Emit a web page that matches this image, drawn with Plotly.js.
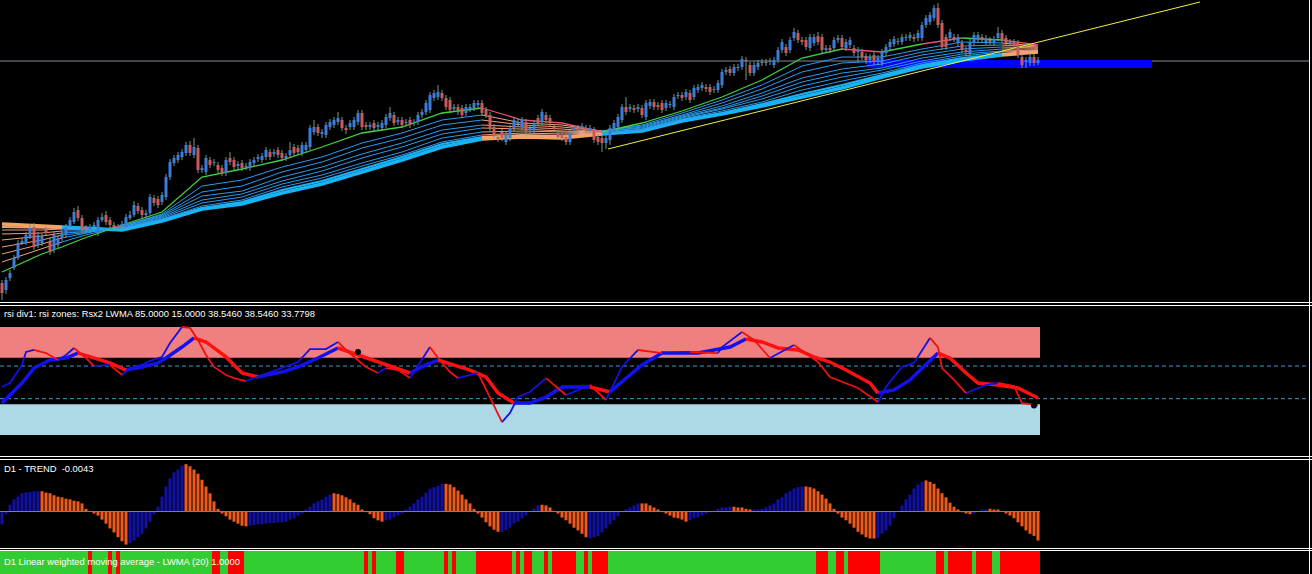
<!DOCTYPE html>
<html><head><meta charset="utf-8">
<script src="https://cdn.plot.ly/plotly-3.0.1.min.js"></script>
<style>html,body{margin:0;padding:0;background:#000;overflow:hidden}#chart{width:1312px;height:574px}</style>
</head><body><div id="chart"></div>
<script>
// ---------- price candles (bar index 0..259) ----------
const opens = [1017,1010,1022,1032,1042,1057,1057,1063,1073,1055,1057,1070,1058,1050,1055,1062,1065,1073,1078,1090,
1082,1072,1070,1073,1067,1080,1085,1080,1075,1074,1074,1073,1082,1085,1094,1090,1085,1087,1102,1101,
1098,1103,1123,1137,1140,1143,1147,1155,1145,1152,1130,1128,1140,1137,1135,1132,1127,1142,1140,1134,
1137,1133,1132,1137,1141,1140,1143,1148,1146,1150,1147,1142,1145,1153,1152,1147,1150,1153,1168,1173,
1166,1165,1173,1175,1178,1180,1172,1173,1173,1178,1187,1175,1173,1177,1173,1172,1175,1182,1185,1178,
1180,1177,1180,1177,1178,1185,1188,1190,1202,1203,1207,1202,1200,1191,1193,1192,1187,1191,1192,1195,
1197,1190,1185,1173,1163,1168,1158,1162,1172,1176,1173,1178,1170,1170,1182,1178,1185,1182,1173,1167,
1165,1163,1158,1170,1172,1172,1172,1170,1170,1163,1162,1157,1160,1168,1173,1180,1193,1191,1192,1191,
1192,1183,1194,1198,1195,1197,1192,1195,1193,1204,1205,1203,1207,1203,1210,1212,1213,1213,1210,1210,
1215,1228,1231,1227,1232,1233,1240,1235,1227,1233,1237,1238,1238,1235,1240,1250,1253,1250,1262,1267,
1260,1260,1252,1257,1264,1263,1250,1252,1252,1260,1262,1252,1255,1252,1248,1248,1244,1240,1245,1238,
1237,1247,1253,1256,1258,1258,1262,1262,1263,1262,1262,1275,1278,1282,1292,1277,1263,1262,1263,1257,
1257,1250,1247,1257,1260,1263,1258,1260,1257,1262,1267,1262,1257,1258,1257,1243,1238,1237,1243,1237];
const highs = [1020,1023,1030,1045,1060,1062,1068,1076,1077,1068,1066,1073,1062,1068,1065,1070,1076,1083,1092,1094,
1085,1075,1076,1078,1083,1087,1089,1083,1078,1076,1079,1086,1089,1099,1097,1093,1090,1106,1105,1104,
1108,1126,1141,1145,1148,1151,1158,1159,1162,1155,1135,1145,1143,1141,1138,1135,1143,1148,1143,1139,
1140,1137,1141,1143,1146,1147,1153,1151,1151,1153,1150,1147,1158,1156,1155,1158,1158,1175,1180,1176,
1171,1178,1181,1183,1188,1183,1175,1180,1183,1190,1190,1178,1178,1180,1178,1180,1186,1193,1188,1183,
1183,1181,1183,1181,1188,1191,1200,1208,1210,1215,1210,1205,1203,1196,1196,1195,1196,1196,1200,1200,
1200,1193,1188,1176,1166,1171,1168,1175,1183,1181,1183,1181,1175,1180,1185,1191,1188,1185,1176,1170,
1168,1166,1170,1175,1175,1177,1175,1175,1173,1166,1165,1165,1175,1180,1186,1196,1203,1196,1195,1196,
1195,1200,1201,1201,1198,1200,1200,1199,1206,1208,1208,1211,1210,1215,1216,1218,1216,1216,1214,1220,
1231,1233,1234,1236,1236,1244,1243,1238,1238,1240,1241,1241,1242,1243,1253,1261,1256,1263,1272,1270,
1263,1263,1266,1266,1268,1266,1255,1255,1263,1265,1265,1261,1263,1255,1253,1251,1247,1246,1248,1245,
1251,1256,1261,1264,1262,1266,1266,1268,1266,1270,1278,1285,1288,1295,1297,1280,1266,1271,1266,1266,
1260,1253,1261,1268,1268,1266,1265,1263,1264,1273,1270,1265,1261,1261,1260,1246,1243,1246,1246,1243];
const lows = [1000,1006,1019,1030,1040,1055,1055,1061,1050,1052,1054,1064,1045,1047,1052,1059,1062,1070,1076,1079,
1067,1068,1067,1071,1064,1078,1075,1072,1070,1069,1071,1071,1080,1083,1086,1082,1082,1085,1094,1092,
1095,1100,1120,1134,1137,1140,1144,1144,1142,1127,1127,1125,1132,1134,1127,1124,1124,1135,1130,1131,
1129,1130,1129,1134,1138,1137,1140,1140,1143,1142,1139,1139,1142,1144,1145,1144,1147,1150,1165,1164,
1162,1162,1170,1172,1175,1169,1166,1170,1170,1175,1170,1170,1170,1169,1170,1169,1172,1179,1174,1175,
1172,1174,1172,1174,1175,1182,1185,1187,1199,1200,1199,1190,1187,1188,1185,1182,1184,1188,1189,1192,
1184,1182,1169,1162,1158,1159,1155,1159,1169,1173,1170,1165,1167,1167,1174,1175,1177,1174,1168,1160,
1159,1155,1155,1167,1167,1169,1167,1167,1157,1155,1148,1151,1155,1165,1170,1177,1185,1188,1187,1188,
1182,1180,1191,1190,1190,1187,1189,1192,1190,1201,1199,1200,1197,1200,1207,1209,1208,1205,1207,1207,
1212,1225,1224,1224,1229,1230,1220,1224,1224,1230,1234,1234,1235,1232,1237,1247,1244,1247,1259,1257,
1255,1250,1249,1254,1255,1247,1247,1247,1249,1257,1250,1249,1252,1244,1238,1240,1236,1237,1235,1235,
1234,1244,1250,1253,1255,1255,1259,1259,1258,1259,1259,1272,1275,1279,1272,1250,1250,1259,1258,1254,
1247,1244,1244,1254,1257,1258,1255,1255,1254,1259,1257,1254,1254,1251,1242,1232,1232,1234,1234,1235];
const closes = [1007,1020,1027,1042,1057,1059,1065,1072,1053,1065,1063,1067,1048,1065,1062,1067,1073,1080,1088,1082,
1070,1071,1073,1075,1080,1083,1078,1075,1073,1072,1076,1083,1085,1095,1089,1085,1087,1103,1097,1095,
1105,1123,1138,1142,1145,1148,1155,1147,1153,1130,1132,1142,1135,1138,1130,1127,1140,1138,1133,1136,
1132,1134,1138,1140,1143,1144,1150,1143,1148,1145,1142,1144,1150,1147,1148,1155,1155,1172,1173,1167,
1168,1175,1178,1180,1182,1172,1170,1177,1180,1187,1173,1173,1175,1172,1175,1177,1183,1187,1177,1180,
1175,1178,1175,1178,1185,1188,1197,1205,1207,1208,1202,1193,1190,1193,1190,1185,1193,1193,1197,1197,
1187,1185,1172,1165,1161,1162,1165,1172,1180,1178,1180,1168,1172,1177,1177,1188,1180,1177,1171,1163,
1162,1158,1167,1172,1170,1174,1170,1172,1160,1158,1157,1162,1172,1177,1183,1193,1188,1193,1190,1193,
1185,1197,1198,1193,1193,1190,1197,1196,1203,1205,1202,1208,1200,1212,1213,1215,1211,1208,1211,1217,
1228,1230,1227,1233,1233,1241,1239,1227,1235,1237,1238,1237,1239,1240,1250,1258,1247,1260,1268,1260,
1258,1253,1263,1263,1258,1250,1252,1250,1260,1262,1253,1258,1260,1247,1250,1243,1240,1243,1238,1242,
1248,1253,1258,1261,1259,1263,1263,1265,1261,1267,1275,1282,1285,1292,1275,1253,1253,1268,1261,1263,
1250,1248,1258,1265,1265,1261,1262,1258,1261,1267,1260,1257,1258,1254,1245,1235,1240,1243,1237,1240];

// ---------- drawn objects on the price chart ----------
const bidPrice = 1239;
const zoneBars = [216.2, 287.5];
const zonePrices = [1232, 1240];
const trendLineBars = [151.5, 299.5];
const trendLinePrices = [1151, 1298];

// ---------- moving-average ribbon (sampled bars) ----------
const ribbonBars = [0,10,15,20,30,40,50,60,70,80,90,100,110,120,130,140,150,160,170,180,190,200,210,220,230,240,250,259];
const maFast = [1028,1046,1053,1061,1075,1088,1123,1131,1140,1153,1167,1173,1187,1192,1180,1177,1168,1177,1189,1203,1220,1242,1251,1248,1256,1262,1260,1255];
const ma2 = [1038,1051,1058,1064,1074,1086,1114,1120,1133,1143,1157,1167,1180,1185,1177,1175,1169,1175,1187,1200,1215,1234,1243,1243,1251,1258,1257,1254];
const ma3 = [1046,1056,1062,1066,1074,1085,1108,1114,1128,1138,1152,1162,1175,1180,1175,1173,1169,1174,1185,1197,1211,1228,1237,1239,1248,1254,1255,1253];
const ma4 = [1053,1060,1065,1067,1073,1084,1104,1109,1123,1133,1146,1157,1170,1175,1173,1171,1168,1173,1184,1194,1207,1222,1231,1236,1245,1251,1253,1252];
const ma5 = [1060,1064,1067,1068,1073,1083,1100,1106,1119,1129,1142,1153,1166,1172,1171,1169,1168,1172,1183,1192,1204,1218,1227,1232,1242,1248,1251,1251];
const ma6 = [1066,1067,1069,1069,1072,1082,1097,1103,1116,1125,1137,1148,1162,1168,1169,1168,1167,1171,1182,1191,1201,1214,1223,1230,1239,1246,1249,1250];
const ma7 = [1070,1070,1071,1070,1072,1081,1094,1100,1113,1122,1134,1145,1158,1165,1167,1166,1167,1170,1181,1189,1198,1210,1219,1227,1237,1244,1248,1249];
const ma8 = [1073,1072,1072,1071,1071,1080,1092,1098,1110,1119,1131,1143,1156,1163,1165,1164,1166,1170,1180,1187,1196,1206,1215,1225,1235,1242,1246,1249];
const maSlow = [1076,1074,1073,1072,1070,1079,1091,1096,1107,1116,1128,1140,1153,1161,1163,1162,1166,1169,1179,1186,1194,1203,1212,1223,1233,1240,1245,1248];
const ribbonDownRanges = [[0,15],[120,150],[250,259]];
const fastDownRanges = [[120,150],[210,220],[230,240],[250,259]];

// ---------- RSI divergence panel ----------
const rsiFastBars = [0,2,5,6,8,11,14,16,18,21,23,27,30,32,35,37,40,42,45,47,49,51,53,56,58,61,63,67,71,74,77,81,84,86,91,94,96,99,102,107,109,112,114,117,119,122,125,127,129,132,136,141,147,151,155,159,165,172,179,180,185,188,192,198,204,207,214,219,221,225,228,232,234,235,238,241,246,249,253,255,259];
const rsiFastVals = [46.1,48.7,60.4,68.8,70.1,68.1,63.6,66.9,71.4,64.9,59.7,60.4,53.9,58.4,60.4,63.0,65.6,74.6,85.0,84.4,76.6,66.9,59.1,53.9,51.9,50.0,51.9,55.8,59.1,62.3,70.7,70.7,75.3,70.1,59.1,55.2,58.4,57.1,51.9,72.0,64.9,55.8,51.9,53.9,55.2,39.6,23.4,29.3,39.6,42.9,51.9,40.9,47.4,37.7,59.1,70.1,68.1,68.8,68.1,72.0,81.8,76.6,64.9,73.3,62.3,52.6,45.5,36.4,46.1,59.1,61.7,77.9,72.0,58.4,50.7,42.2,47.4,48.7,46.8,35.7,34.4];
const rsiSlowBars = [0,5,8,12,16,19,23,27,31,35,39,41,45,48,51,56,60,64,66,70,74,79,84,91,95,102,106,109,117,121,124,128,132,136,140,147,152,155,160,165,174,182,186,190,194,199,203,207,211,217,219,223,227,231,234,237,241,244,249,254,259];
const rsiSlowVals = [35.7,48.7,58.4,63.6,64.9,68.1,64.9,61.7,57.1,59.1,61.7,64.9,72.0,77.9,75.3,65.6,55.2,52.6,53.9,55.8,59.1,64.9,71.4,64.9,61.7,55.2,60.4,63.6,57.1,52.6,42.2,35.7,35.7,39.6,46.1,46.1,42.9,49.4,60.4,68.1,68.1,72.0,77.2,75.3,71.4,70.1,65.6,62.3,57.1,48.7,42.2,44.2,50.7,60.4,68.1,64.9,55.2,48.7,47.4,45.5,39.0];
const rsiMarkBars = [89, 258];
const rsiMarkVals = [68.8, 34.2];
const rsiUpperZone = [65, 85];
const rsiLowerZone = [15, 35];
const rsiLevels = [59.7, 38.546];
const rsiLabel = "rsi div1: rsi zones: Rsx2 LWMA 85.0000 15.0000 38.5460 38.5460 33.7798";

// ---------- D1 TREND histogram (units of 0.0001) ----------
const trendPts = [-19,-4,10,18,22,27,28,29,30,30,
30,28,27,24,22,21,19,18,16,15,12,4,
1,-3,-6,-12,-18,-25,-31,-38,-44,-49,
-47,-43,-38,-33,-25,-15,-4,7,22,37,49,58,62,68,
70,67,62,56,47,37,27,15,4,-3,-7,-12,-15,-18,-21,-22,
-21,-20,-19,-19,-18,-17,-17,-16,-16,-15,-12,-10,-6,-3,
3,7,12,15,18,22,25,27,26,24,21,18,13,10,3,
-1,-4,-10,-13,-15,-13,-12,-9,-6,-3,
3,7,12,18,22,28,34,36,38,41,
41,40,36,31,25,18,12,4,-3,-9,-16,-22,-27,-30,
-30,-27,-24,-18,-15,-10,-6,-1,4,9,
10,9,6,1,-3,-9,-13,-18,-24,-28,-33,-38,
-40,-38,-36,-31,-25,-19,-13,-7,-1,3,6,9,12,
12,12,9,6,3,-1,-3,-6,-9,-10,-12,-15,
-13,-10,-9,-6,-3,-1,1,4,6,6,7,
7,6,6,4,3,
3,3,4,6,9,12,18,21,27,30,34,36,37,
37,36,34,30,25,19,12,4,-3,-9,-13,-18,-24,-30,-34,-38,-40,-40,
-39,-33,-28,-21,-10,1,9,18,25,34,40,44,
46,44,41,34,27,21,13,7,3,-1,-3,-4,
-3,1,3,3,
4,3,3,0,-3,-6,-10,-16,-22,-28,-33,-36,-43];
const trendFallingRuns = [[10,31],[46,61],[83,95],[111,124],[135,146],[160,171],[183,187],[201,218],[231,242],[247,259]];

// ---------- D1 LWMA(20) state strip ----------
const lwmaDownRuns = [[22,22],[27,27],[29,29],[53,54],[57,60],[91,91],[93,93],[99,100],[111,111],[113,113],[119,127],[129,129],[131,132],[136,136],[138,143],[146,146],[148,151],[204,206],[209,210],[212,219],[234,235],[237,242],[244,247],[250,259]];
const lwmaValue = 1.0;

// ================= build =================
const N = opens.length;
const idx = opens.map((_, i) => i);
const inRuns = (a, b, runs) => runs.some(([s, e]) => a >= s && b <= e);
const py = px => 1 - px / 574;
const PX = px => px / 1312;

function split(xs, ys, isDown) {
  const up = {x: [], y: []}, dn = {x: [], y: []};
  let prev = null;
  for (let k = 0; k < xs.length - 1; k++) {
    const d = isDown(k);
    const t = d ? dn : up;
    if (prev !== d) {
      if (t.x.length) { t.x.push(null); t.y.push(null); }
      t.x.push(xs[k]); t.y.push(ys[k]);
    }
    t.x.push(xs[k + 1]); t.y.push(ys[k + 1]);
    prev = d;
  }
  return [up, dn];
}
function lineTraces(xs, ys, isDown, cUp, cDn, w, yaxis) {
  const [u, d] = split(xs, ys, isDown);
  return [
    {type: 'scatter', mode: 'lines', x: u.x, y: u.y, yaxis, line: {color: cUp, width: w}, connectgaps: false, hoverinfo: 'skip'},
    {type: 'scatter', mode: 'lines', x: d.x, y: d.y, yaxis, line: {color: cDn, width: w}, connectgaps: false, hoverinfo: 'skip'}
  ];
}
function segs(sel, lo, hi) {
  const x = [], y = [];
  idx.filter(sel).forEach(i => { x.push(i, i, null); y.push(lo[i], hi[i], null); });
  return {x, y};
}

const traces = [];
// ribbon
const ribDown = k => inRuns(ribbonBars[k], ribbonBars[k + 1], ribbonDownRanges);
const fastDown = k => inRuns(ribbonBars[k], ribbonBars[k + 1], fastDownRanges);
traces.push(...lineTraces(ribbonBars, maSlow, ribDown, '#14b6f6', '#f5a45e', 3.5, 'y'));
traces.push(...lineTraces(ribbonBars, ma8, ribDown, '#1eb0f4', '#f3a27a', 2, 'y'));
[ma7, ma6, ma5, ma4, ma3, ma2].forEach(m => traces.push(...lineTraces(ribbonBars, m, ribDown, '#2a9ced', '#f2a07e', 1, 'y')));
traces.push(...lineTraces(ribbonBars, maFast, fastDown, '#3fd23f', '#e4507c', 1.3, 'y'));
// trend line
traces.push({type: 'scatter', mode: 'lines', x: trendLineBars, y: trendLinePrices, yaxis: 'y', line: {color: '#f0f040', width: 1}, hoverinfo: 'skip'});
// candles: wicks then bodies
const wick = segs(() => true, lows, highs);
traces.push({type: 'scatter', mode: 'lines', x: wick.x, y: wick.y, yaxis: 'y', line: {color: '#6f9f86', width: 1}, hoverinfo: 'skip'});
const bullBody = segs(i => closes[i] >= opens[i], opens, closes);
const bearBody = segs(i => closes[i] < opens[i], closes, opens);
traces.push({type: 'scatter', mode: 'lines', x: bullBody.x, y: bullBody.y, yaxis: 'y', line: {color: '#3a7ddc', width: 3}, hoverinfo: 'skip'});
traces.push({type: 'scatter', mode: 'lines', x: bearBody.x, y: bearBody.y, yaxis: 'y', line: {color: '#cc5a5a', width: 3}, hoverinfo: 'skip'});

// RSI lines
traces.push(...lineTraces(rsiSlowBars, rsiSlowVals, k => rsiSlowVals[k + 1] < rsiSlowVals[k], '#1212f0', '#ff1010', 3.5, 'y2'));
traces.push(...lineTraces(rsiFastBars, rsiFastVals, k => rsiFastVals[k + 1] < rsiFastVals[k], '#1212e6', '#f01010', 1.8, 'y2'));
traces.push({type: 'scatter', mode: 'markers', x: rsiMarkBars, y: rsiMarkVals, yaxis: 'y2', marker: {color: '#000', size: 6}, hoverinfo: 'skip'});

// trend histogram
traces.push({type: 'bar', x: idx, y: trendPts.map(v => v / 10000), yaxis: 'y3', width: 0.75,
  marker: {color: idx.map(i => inRuns(i, i, trendFallingRuns) ? '#f0581c' : '#1010a8'), line: {width: 0}}, hoverinfo: 'skip'});

// LWMA strip
traces.push({type: 'bar', x: idx, y: idx.map(() => lwmaValue), yaxis: 'y4', width: 1,
  marker: {color: idx.map(i => inRuns(i, i, lwmaDownRuns) ? '#ff0000' : '#32cd32'), line: {width: 0}}, hoverinfo: 'skip'});

const white = '#ffffff';
const shapes = [
  {type: 'rect', xref: 'x', yref: 'y', x0: zoneBars[0], x1: zoneBars[1], y0: zonePrices[0], y1: zonePrices[1], fillcolor: '#0000ff', line: {width: 0}, layer: 'below'},
  {type: 'line', xref: 'paper', yref: 'y', x0: 0, x1: PX(1309), y0: bidPrice, y1: bidPrice, line: {color: '#7f8b97', width: 1}, layer: 'below'},
  {type: 'rect', xref: 'x', yref: 'y2', x0: -0.5, x1: N - 0.5, y0: rsiUpperZone[0], y1: rsiUpperZone[1], fillcolor: '#f08080', line: {width: 0}, layer: 'below'},
  {type: 'rect', xref: 'x', yref: 'y2', x0: -0.5, x1: N - 0.5, y0: rsiLowerZone[0], y1: rsiLowerZone[1], fillcolor: '#add8e6', line: {width: 0}, layer: 'below'},
  ...rsiLevels.map(v => ({type: 'line', xref: 'paper', yref: 'y2', x0: 0, x1: PX(1309), y0: v, y1: v, line: {color: '#3d9ad0', width: 1, dash: '4px,3px'}, layer: 'below'})),
  {type: 'line', xref: 'x', yref: 'y3', x0: -0.5, x1: N - 0.5, y0: 0, y1: 0, line: {color: '#808080', width: 1}, layer: 'above'},
  ...[302.5, 305.5, 456.5, 459.5, 548.5, 550.5].map(p => ({type: 'line', xref: 'paper', yref: 'paper', x0: 0, x1: 1, y0: py(p), y1: py(p), line: {color: white, width: 1}})),
  {type: 'line', xref: 'paper', yref: 'paper', x0: PX(1309.5), x1: PX(1309.5), y0: 0, y1: 1, line: {color: white, width: 1}}
];

const fnt = {family: 'Liberation Sans, Arial, sans-serif', size: 9.4, color: white};
const ann = (text, ypx) => ({text, xref: 'paper', yref: 'paper', x: PX(3), y: py(ypx), xanchor: 'left', yanchor: 'middle', showarrow: false, font: fnt, borderpad: 0});
const lastTrend = (trendPts[N - 1] / 10000).toFixed(4);
const annotations = [
  ann(rsiLabel, 313),
  ann('D1 - TREND  ' + lastTrend, 468),
  ann('D1 Linear weighted moving average - LWMA (20) ' + lwmaValue.toFixed(4), 561)
];

const hid = {visible: false, showgrid: false, zeroline: false, fixedrange: true};
const layout = {
  width: 1312, height: 574, margin: {l: 0, r: 0, t: 0, b: 0, pad: 0},
  paper_bgcolor: '#000', plot_bgcolor: '#000', showlegend: false, hovermode: false,
  barmode: 'overlay', dragmode: false,
  xaxis: Object.assign({range: [-0.5, 327.5], domain: [0, 1], anchor: 'y4'}, hid),
  yaxis: Object.assign({domain: [py(301), 1], range: [999, 1300], anchor: 'x'}, hid),
  yaxis2: Object.assign({domain: [py(455), py(306)], range: [2.045, 98.61], anchor: 'x'}, hid),
  yaxis3: Object.assign({domain: [py(547), py(460)], range: [-0.00525, 0.00762], anchor: 'x'}, hid),
  yaxis4: Object.assign({domain: [0, py(551)], range: [0, 1], anchor: 'x'}, hid),
  shapes, annotations
};
Plotly.newPlot('chart', traces, layout, {staticPlot: true, displayModeBar: false});
</script>
</body></html>
